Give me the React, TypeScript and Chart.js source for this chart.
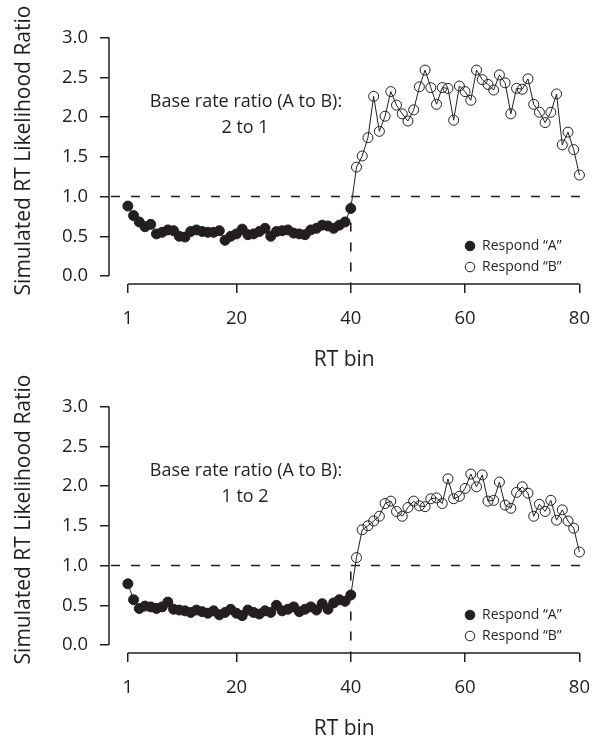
import React, { useEffect, useRef } from 'react';
import { Chart, registerables } from 'chart.js';

Chart.register(...registerables);

// ---------- data ----------
const RT_BINS_A = Array.from({ length: 40 }, (_, i) => i + 1); // bins 1..40
const RT_BINS_B = Array.from({ length: 40 }, (_, i) => i + 41); // bins 41..80

const TOP_RESPOND_A = [
  0.88, 0.76, 0.68, 0.62, 0.65, 0.53, 0.55, 0.58, 0.57, 0.50,
  0.49, 0.56, 0.58, 0.56, 0.55, 0.55, 0.57, 0.45, 0.50, 0.53,
  0.59, 0.52, 0.53, 0.56, 0.60, 0.50, 0.56, 0.57, 0.58, 0.54,
  0.53, 0.52, 0.58, 0.60, 0.64, 0.63, 0.60, 0.64, 0.68, 0.85,
];
const TOP_RESPOND_B = [
  1.37, 1.51, 1.74, 2.26, 1.82, 2.01, 2.32, 2.15, 2.04, 1.95,
  2.09, 2.38, 2.59, 2.37, 2.16, 2.37, 2.36, 1.96, 2.39, 2.32,
  2.21, 2.59, 2.47, 2.41, 2.34, 2.53, 2.43, 2.04, 2.36, 2.35,
  2.48, 2.16, 2.06, 1.93, 2.06, 2.29, 1.65, 1.81, 1.59, 1.27,
];
const BOTTOM_RESPOND_A = [
  0.77, 0.57, 0.46, 0.49, 0.48, 0.46, 0.48, 0.54, 0.45, 0.44,
  0.43, 0.41, 0.44, 0.42, 0.40, 0.43, 0.38, 0.41, 0.45, 0.40,
  0.37, 0.44, 0.41, 0.39, 0.43, 0.41, 0.50, 0.43, 0.45, 0.48,
  0.42, 0.45, 0.48, 0.44, 0.52, 0.45, 0.53, 0.57, 0.55, 0.63,
];
const BOTTOM_RESPOND_B = [
  1.10, 1.45, 1.50, 1.56, 1.62, 1.78, 1.81, 1.68, 1.62, 1.73,
  1.81, 1.75, 1.74, 1.84, 1.85, 1.78, 2.09, 1.84, 1.87, 1.97,
  2.15, 1.99, 2.14, 1.81, 1.82, 2.05, 1.76, 1.72, 1.92, 1.99,
  1.91, 1.62, 1.77, 1.68, 1.82, 1.57, 1.70, 1.56, 1.47, 1.17,
];

const X_TICKS = [1, 20, 40, 60, 80];
const Y_TICKS = [0, 0.5, 1, 1.5, 2, 2.5, 3];
const SERIES_LABELS = ['Respond “A”', 'Respond “B”'];
const X_TITLE = 'RT bin';
const Y_TITLE = 'Simulated RT Likelihood Ratio';
const TOP_NOTE = ['Base rate ratio (A to B):', '2 to 1'];
const BOTTOM_NOTE = ['Base rate ratio (A to B):', '1 to 2'];
const THRESHOLD = 1;
const SWITCH_BIN = 40;

// ---------- style ----------
const INK = '#231f20';
const FONT = '"Open Sans", "Noto Sans", sans-serif';
const PANEL_W = 605;
const PANEL_H = 373;

const decor = {
  id: 'decor',
  beforeDatasetsDraw(chart: any) {
    const { ctx, chartArea: a, scales } = chart;
    const x = scales.x;
    const y = scales.y;
    const y1 = y.getPixelForValue(THRESHOLD);
    const xs = x.getPixelForValue(SWITCH_BIN);
    ctx.save();
    ctx.strokeStyle = INK;
    ctx.lineWidth = 1.6;
    ctx.setLineDash([9, 11]);
    ctx.beginPath();
    ctx.moveTo(a.left + 2, y1);
    ctx.lineTo(a.right + 4, y1);
    ctx.stroke();
    ctx.beginPath();
    ctx.moveTo(xs, y1 + 6);
    ctx.lineTo(xs, a.bottom);
    ctx.stroke();
    ctx.restore();
  },
  afterDraw(chart: any, _args: any, opts: any) {
    const { ctx, chartArea: a, scales } = chart;
    const x = scales.x;
    const y = scales.y;
    ctx.save();
    ctx.strokeStyle = INK;
    ctx.lineWidth = 1.5;
    // axis lines (R style, detached)
    ctx.beginPath();
    ctx.moveTo(a.left, y.getPixelForValue(Y_TICKS[Y_TICKS.length - 1]));
    ctx.lineTo(a.left, y.getPixelForValue(Y_TICKS[0]));
    ctx.stroke();
    ctx.beginPath();
    ctx.moveTo(x.getPixelForValue(X_TICKS[0]), a.bottom);
    ctx.lineTo(x.getPixelForValue(X_TICKS[X_TICKS.length - 1]), a.bottom);
    ctx.stroke();

    ctx.fillStyle = INK;
    // y title
    ctx.save();
    ctx.translate(30, 150.5);
    ctx.rotate(-Math.PI / 2);
    ctx.font = `21px ${FONT}`;
    ctx.textAlign = 'center';
    ctx.textBaseline = 'alphabetic';
    ctx.fillText(Y_TITLE, 0, 0);
    ctx.restore();

    // note
    const note: string[] = opts.note || [];
    ctx.font = `18px ${FONT}`;
    ctx.textAlign = 'center';
    ctx.textBaseline = 'middle';
    ctx.fillText(note[0], 246, 102);
    ctx.fillText(note[1], 245, 128);

    // legend
    const ds = chart.data.datasets;
    ctx.font = `14px ${FONT}`;
    ctx.textAlign = 'left';
    const rows = [246, 267];
    [0, 1].forEach((i) => {
      const cy = rows[i];
      ctx.beginPath();
      ctx.arc(470, cy, 4.8, 0, Math.PI * 2);
      ctx.lineWidth = 1;
      ctx.setLineDash([]);
      if (i === 0) {
        ctx.fillStyle = INK;
        ctx.fill();
      }
      ctx.strokeStyle = INK;
      ctx.stroke();
      ctx.fillStyle = INK;
      ctx.fillText(ds[i].label, 482, cy);
    });
    ctx.restore();
  },
};

function Panel({ respondA, respondB, note, top }: { respondA: number[]; respondB: number[]; note: string[]; top: number }) {
  const ref = useRef<HTMLCanvasElement>(null);
  useEffect(() => {
    const ptsA = respondA.map((v, i) => ({ x: RT_BINS_A[i], y: v }));
    const ptsB = respondB.map((v, i) => ({ x: RT_BINS_B[i], y: v }));
    const tickFont = { family: FONT, size: 18.5 };
    const chart = new Chart(ref.current as HTMLCanvasElement, {
      type: 'scatter',
      data: {
        datasets: [
          {
            label: SERIES_LABELS[0],
            data: ptsA,
            showLine: false,
            pointRadius: 5,
            pointBackgroundColor: INK,
            pointBorderColor: INK,
            pointBorderWidth: 1,
            clip: false,
            order: 1,
          },
          {
            label: SERIES_LABELS[1],
            data: ptsB,
            showLine: false,
            pointRadius: 5,
            pointBackgroundColor: 'rgba(0,0,0,0)',
            pointBorderColor: INK,
            pointBorderWidth: 1,
            clip: false,
            order: 1,
          },
          {
            label: 'trace',
            data: [...ptsA, ...ptsB],
            showLine: true,
            borderColor: INK,
            borderWidth: 1,
            pointRadius: 0,
            clip: false,
            order: 2,
          },
        ],
      } as any,
      options: {
        responsive: false,
        animation: false,
        events: [],
        layout: { padding: { left: 0, right: 10, top: 37.5, bottom: 0 } },
        plugins: {
          legend: { display: false },
          tooltip: { enabled: false },
          decor: { note },
        } as any,
        scales: {
          x: {
            type: 'linear',
            min: -2.3,
            max: 80,
            afterBuildTicks: (s: any) => {
              s.ticks = X_TICKS.map((v) => ({ value: v }));
            },
            afterFit: (s: any) => {
              s.height = 89;
            },
            border: { display: false },
            grid: { display: true, drawOnChartArea: false, drawTicks: true, tickLength: 9, color: INK, lineWidth: 1.5 },
            ticks: {
              font: tickFont,
              color: INK,
              padding: 15,
              maxRotation: 0,
              autoSkip: false,
              callback: (v: any) => String(v),
            },
            title: { display: true, text: X_TITLE, color: INK, font: { family: FONT, size: 21 }, padding: 0 },
          },
          y: {
            type: 'linear',
            min: -0.1,
            max: 3,
            afterBuildTicks: (s: any) => {
              s.ticks = Y_TICKS.map((v) => ({ value: v }));
            },
            afterFit: (s: any) => {
              s.width = 109;
            },
            border: { display: false },
            grid: { display: true, drawOnChartArea: false, drawTicks: true, tickLength: 9, color: INK, lineWidth: 1.5 },
            ticks: {
              font: tickFont,
              color: INK,
              padding: 12,
              autoSkip: false,
              callback: (v: any) => Number(v).toFixed(1),
            },
          },
        },
      } as any,
      plugins: [decor],
    });
    return () => chart.destroy();
  }, [respondA, respondB, note]);
  return (
    <canvas
      ref={ref}
      width={PANEL_W}
      height={PANEL_H}
      style={{ position: 'absolute', left: 0, top, width: PANEL_W, height: PANEL_H, display: 'block' }}
    />
  );
}

export default function App() {
  return (
    <div style={{ position: 'absolute', left: 0, top: 0, width: 605, height: 742, background: '#fff' }}>
      <Panel respondA={TOP_RESPOND_A} respondB={TOP_RESPOND_B} note={TOP_NOTE} top={0} />
      <Panel respondA={BOTTOM_RESPOND_A} respondB={BOTTOM_RESPOND_B} note={BOTTOM_NOTE} top={369} />
    </div>
  );
}
